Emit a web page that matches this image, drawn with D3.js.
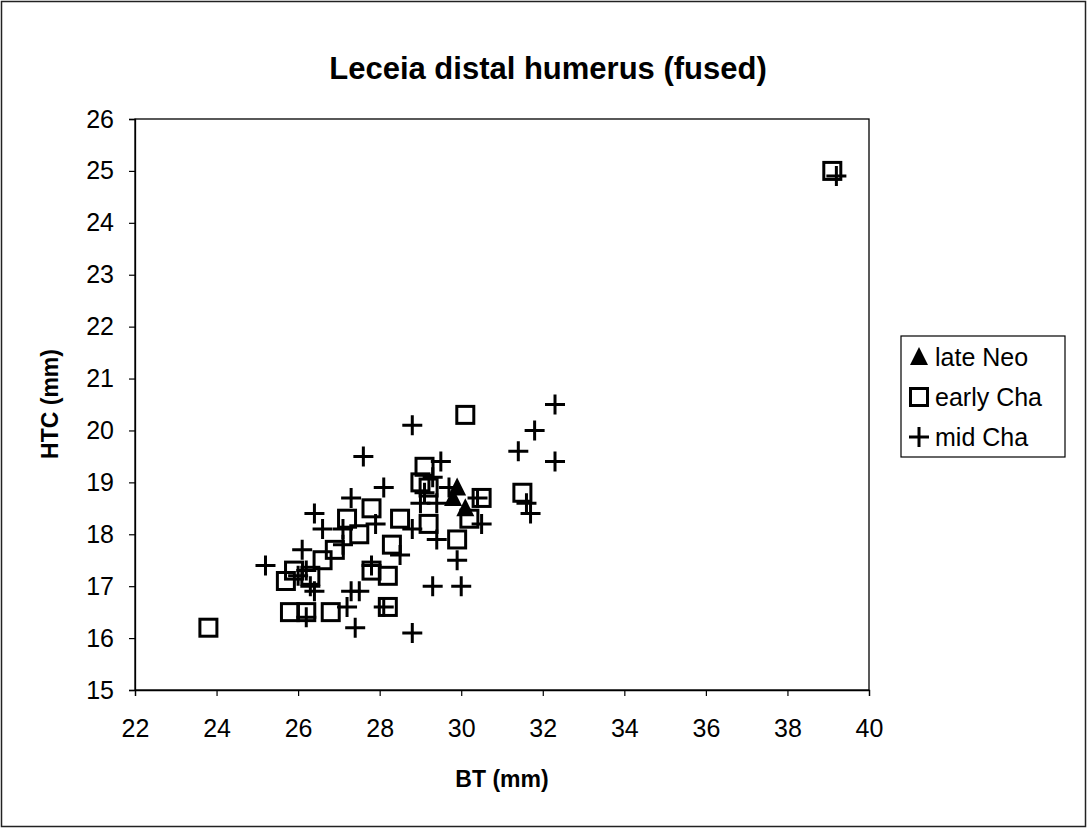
<!DOCTYPE html>
<html><head><meta charset="utf-8">
<script src="https://cdn.jsdelivr.net/npm/d3@7"></script>
<style>body{margin:0;background:#fff}svg{display:block}text{font-family:"Liberation Sans",Arial,sans-serif;fill:#000}</style>
</head><body><svg id="c" width="1087" height="828"></svg>
<script>
const title = "Leceia distal humerus (fused)";
const xLabel = "BT (mm)";
const yLabel = "HTC (mm)";
const xTicks = [22,24,26,28,30,32,34,36,38,40];
const yTicks = [15,16,17,18,19,20,21,22,23,24,25,26];
const seriesNames = ["late Neo","early Cha","mid Cha"];

const lateNeo = [[29.9,18.9],[29.8,18.7],[30.1,18.5]];
const earlyCha = [[23.8,16.2],[39.1,25.0],[31.5,18.8],[30.1,20.3],[29.1,19.3],[29.0,19.0],[29.2,18.9],
  [30.5,18.7],[30.2,18.3],[29.2,18.2],[28.5,18.3],[29.9,17.9],[28.3,17.8],[28.2,17.2],[28.2,16.6],
  [27.8,18.5],[27.2,18.3],[27.5,18.0],[26.9,17.7],[26.6,17.5],[25.7,17.1],[25.9,17.3],[26.3,17.2],
  [27.8,17.3],[25.8,16.5],[26.2,16.5],[26.8,16.5]];
const midCha = [[39.2,24.9],[32.3,20.5],[31.8,20.0],[31.4,19.6],[32.3,19.4],[31.6,18.6],[31.7,18.4],
  [28.8,20.1],[27.6,19.5],[29.5,19.4],[29.3,19.1],[29.7,18.9],[28.1,18.9],[27.3,18.7],
  [29.1,18.8],[29.0,18.6],[29.4,18.6],[30.4,18.7],[30.5,18.2],[28.8,18.1],[29.4,17.9],
  [29.9,17.5],[28.5,17.6],[29.3,17.0],[30.0,17.0],[28.8,16.1],
  [26.4,18.4],[26.6,18.1],[27.1,18.1],[27.9,18.2],[27.1,17.8],[26.1,17.7],[25.2,17.4],
  [26.2,17.3],[27.8,17.4],[26.4,16.9],[27.3,16.9],[27.5,16.9],[27.2,16.6],[26.2,16.4],
  [27.4,16.2],[28.1,16.6],[26.0,17.2],[26.3,17.0]];

const svg = d3.select("#c");
const L=135,R=869,T=119,B=690;
const x = d3.scaleLinear().domain([22,40]).range([L,R]);
const y = d3.scaleLinear().domain([15,26]).range([B,T]);
const FF = '"Liberation Sans",Arial,sans-serif';

svg.append("rect").attr("x",1.5).attr("y",1.5).attr("width",1084).attr("height",825)
  .attr("fill","none").attr("stroke","#222").attr("stroke-width",1.5);

svg.append("rect").attr("x",L).attr("y",T).attr("width",R-L).attr("height",B-T)
  .attr("fill","none").attr("stroke","#000").attr("stroke-width",1.3);

const xa = svg.append("g").attr("transform",`translate(0,${B})`)
  .call(d3.axisBottom(x).tickValues(xTicks).tickSize(6).tickPadding(23).tickFormat(d3.format("d")));
const ya = svg.append("g").attr("transform",`translate(${L},0)`)
  .call(d3.axisLeft(y).tickValues(yTicks).tickSize(6).tickPadding(15).tickFormat(d3.format("d")));
[xa,ya].forEach(a=>{
  a.select(".domain").attr("stroke","#000").attr("stroke-width",1.3);
  a.selectAll(".tick line").attr("stroke","#000").attr("stroke-width",1.2);
  a.selectAll(".tick text").attr("font-size",25).attr("font-family",FF).attr("fill","#000");
});

svg.append("text").attr("x",548).attr("y",79).attr("text-anchor","middle")
  .attr("font-size",31).attr("font-weight","bold").text(title);
svg.append("text").attr("x",502).attr("y",787).attr("text-anchor","middle")
  .attr("font-size",23).attr("font-weight","bold").text(xLabel);
svg.append("text").attr("transform","translate(58,404) rotate(-90)").attr("text-anchor","middle")
  .attr("font-size",23).attr("font-weight","bold").text(yLabel);

const g = svg.append("g");
function square(sel, px, py){
  sel.append("rect").attr("x",px-8.5).attr("y",py-8.5).attr("width",17).attr("height",17)
    .attr("fill","none").attr("stroke","#000").attr("stroke-width",3);
}
function plus(sel, px, py){
  sel.append("path").attr("d",`M${px-10},${py}H${px+10}M${px},${py-10}V${py+10}`)
    .attr("stroke","#000").attr("stroke-width",3).attr("fill","none");
}
function tri(sel, px, py){
  sel.append("path").attr("d",`M${px},${py-10}L${px+9},${py+8}L${px-9},${py+8}Z`).attr("fill","#000");
}
earlyCha.forEach(d=>square(g,x(d[0]),y(d[1])));
midCha.forEach(d=>plus(g,x(d[0]),y(d[1])));
lateNeo.forEach(d=>tri(g,x(d[0]),y(d[1])));

const lg = svg.append("g");
lg.append("rect").attr("x",901).attr("y",336).attr("width",164).attr("height",121)
  .attr("fill","#fff").attr("stroke","#000").attr("stroke-width",1.2);
const ly = [357,397,437];
const mk = [tri,square,plus];
seriesNames.forEach((n,i)=>{
  mk[i](lg,919,ly[i]);
  lg.append("text").attr("x",935).attr("y",ly[i]+9).attr("font-size",25).text(n);
});
</script></body></html>
